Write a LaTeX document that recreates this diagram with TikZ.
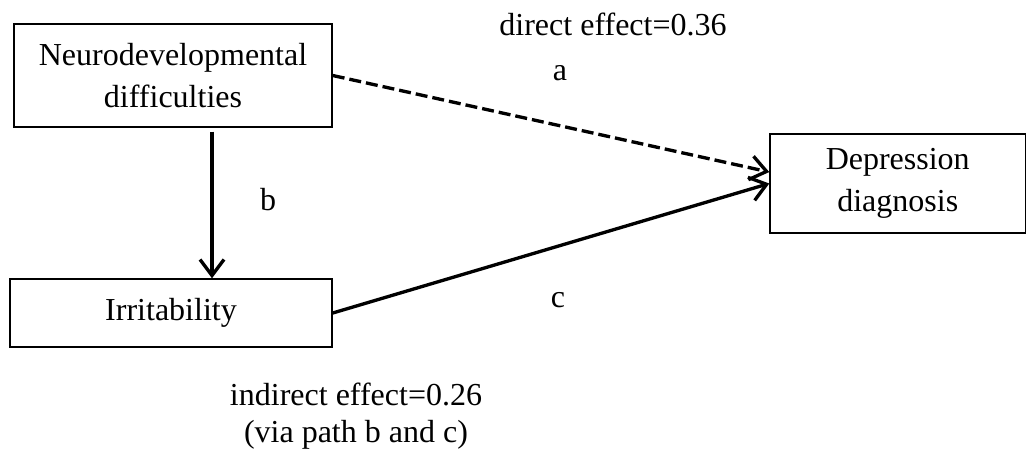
\documentclass[tikz,border=0pt]{standalone}
\usepackage{fontspec}
\setmainfont{Liberation Serif}
\usetikzlibrary{arrows.meta,positioning,calc}

\begin{document}
\begin{tikzpicture}[x=0.75pt,y=-0.75pt,
  box/.style={draw,line width=1.1pt,align=center,inner sep=0pt,font=\fontsize{24}{32}\selectfont},
  lbl/.style={font=\fontsize{24}{27.75}\selectfont,align=center,inner sep=0pt},
  arr/.style={line width=2.5pt,-{Straight Barb[length=12pt,width=18pt,line width=2.5pt]}}]
  \useasboundingbox (0,0) rectangle (1027,455);

  % Three boxes
  \node[box,minimum width=238.5pt,minimum height=77.25pt] (neuro) at (173,75.5) {Neurodevelopmental\\difficulties};
  \node[box,minimum width=241.5pt,minimum height=51pt] (irr) at (171,313) {Irritability};
  \node[box,minimum width=191.6pt,minimum height=74.25pt] (dep) at (897.75,183.5) {Depression\\diagnosis};

  % Direct path (dashed) and the two legs of the indirect path
  \draw[arr,dash pattern=on 9pt off 3.75pt] (neuro.east) -- ([yshift=8.6pt]dep.west);
  \draw[arr] ($(neuro.south)+(39,4)$) coordinate (btop) -- (btop |- irr.north);
  \draw[arr] (irr.east) -- (dep.west);

  % Path letters and effects
  \node[lbl,anchor=base] (dlab) at (613,35) {direct effect=0.36};
  \node[lbl] (alab) at (560,73) {a};
  \node[lbl] (blab) at (268,200) {b};
  \node[lbl] (clab) at (558,300) {c};
  \node[lbl] (ilab) at (356,416) {indirect effect=0.26\\(via path b and c)};
\end{tikzpicture}
\end{document}
